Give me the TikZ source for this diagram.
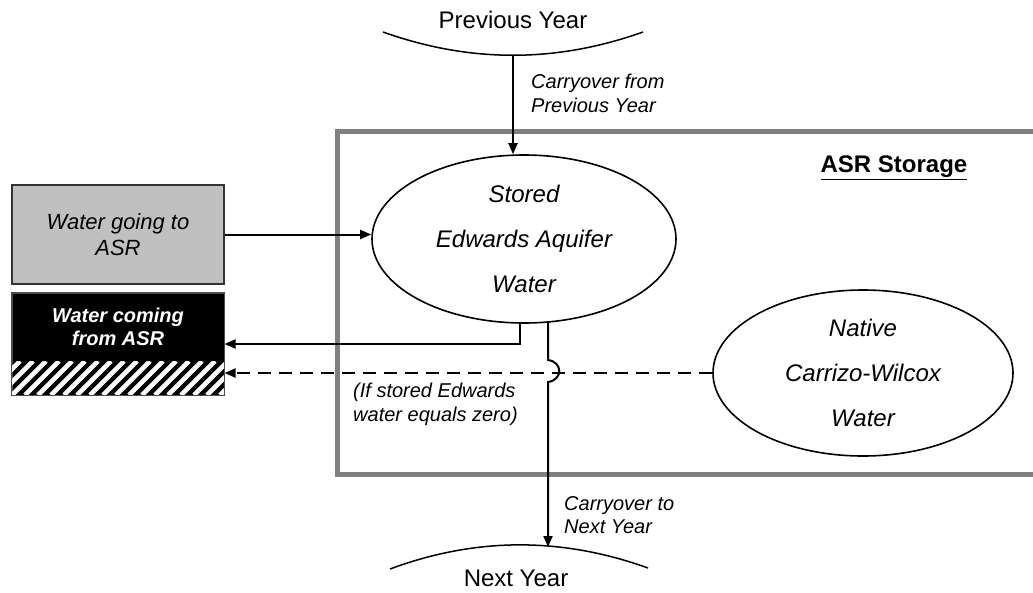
\documentclass[tikz,border=0pt]{standalone}
\usepackage{fontspec}
\setmainfont{Liberation Sans}
\usetikzlibrary{arrows.meta,shapes.geometric}
\definecolor{boxgray}{HTML}{C0C0C0}
\definecolor{asrgray}{HTML}{808080}
\tikzset{
  conn/.style={line width=2pt, black},
  arr/.style={conn, -{Triangle[length=11pt,width=9pt]}},
  oval/.style={ellipse, draw, line width=1.6pt, fill=white, inner sep=0pt, align=center,
     font=\fontsize{24}{45}\selectfont\itshape},
  lbl/.style={anchor=west, align=left, inner sep=0pt, font=\fontsize{20}{23.5}\selectfont\itshape},
  yearcurve/.style={line width=1.5pt},
  yeartxt/.style={inner sep=0pt, font=\fontsize{24}{28}\selectfont},
}
\begin{document}
\begin{tikzpicture}[x=1pt,y=-1pt]
\useasboundingbox (0,0) rectangle (1033,592);
% ASR storage box
\draw[asrgray, line width=5pt] (1040,131) -- (337,131) -- (337,474) -- (1040,474);
\node[inner sep=0pt, font=\fontsize{24}{28}\selectfont\bfseries] (asrlabel) at (894,168) {\underline{ASR Storage}};

% year curves
\draw[yearcurve] (383,32) .. controls (470,63) and (556,63) .. (643,32);
\coordinate (prevmid) at (513,55);
\node[yeartxt] (prevtxt) at (513,20) {Previous Year};
\draw[yearcurve] (390,569) .. controls (476,537) and (562,537) .. (648,568);
\coordinate (nextmid) at (548,547);
\node[yeartxt] (nexttxt) at (516,578) {Next Year};

% ovals
\node[oval, minimum width=304, minimum height=168] (stored) at (524,239) {Stored\\Edwards Aquifer\\Water};
\node[oval, minimum width=300, minimum height=166] (native) at (863,373) {Native\\Carrizo-Wilcox\\Water};

% left boxes
\node[draw=black!80, line width=1.2pt, fill=boxgray, minimum width=212, minimum height=99, inner sep=0pt,
      align=center, font=\fontsize{22}{26}\selectfont\itshape] (going) at (118,234.5) {Water going to\\ASR};
\node[draw=black!70, line width=1pt, fill=black, minimum width=212, minimum height=102, inner sep=0pt] (coming) at (118,344) {};
\begin{scope}
  \clip (12,361) rectangle (224,395);
  \foreach \i in {-40,-27,...,240} \draw[white, line width=4.6pt] (\i,395) -- (\i+34,361);
\end{scope}
\draw[black!70, line width=1pt] (coming.south west) rectangle (coming.north east);
\node[inner sep=0pt, align=center, text=white, font=\fontsize{20}{23}\selectfont\bfseries\itshape] (comingtxt) at (118,326.5) {Water coming\\from ASR};

% labels
\node[lbl] (lblfrom) at (531,93.5) {Carryover from\\Previous Year};
\node[lbl] (lblto) at (564,515) {Carryover to\\Next Year};
\node[lbl] (lblif) at (353,404.5) {(If stored Edwards\\water equals zero)};

% connectors
\draw[arr] (prevmid) -- (prevmid |- stored.north);
\draw[arr] (going.east) -- (going.east -| stored.west);
\coordinate (s1) at (520,322.7);
\coordinate (s2) at (548,321.5);
\draw[arr] (s1) |- (coming.east);
\draw[conn, dashed, dash pattern=on 13pt off 8pt, -{Triangle[length=11pt,width=9pt]}] (native.west) -- (native.west -| coming.east);
\draw[arr] (s2) -- (548,360) .. controls (563,362) and (563,380) .. (548,382) -- (nextmid);
\end{tikzpicture}
\end{document}
